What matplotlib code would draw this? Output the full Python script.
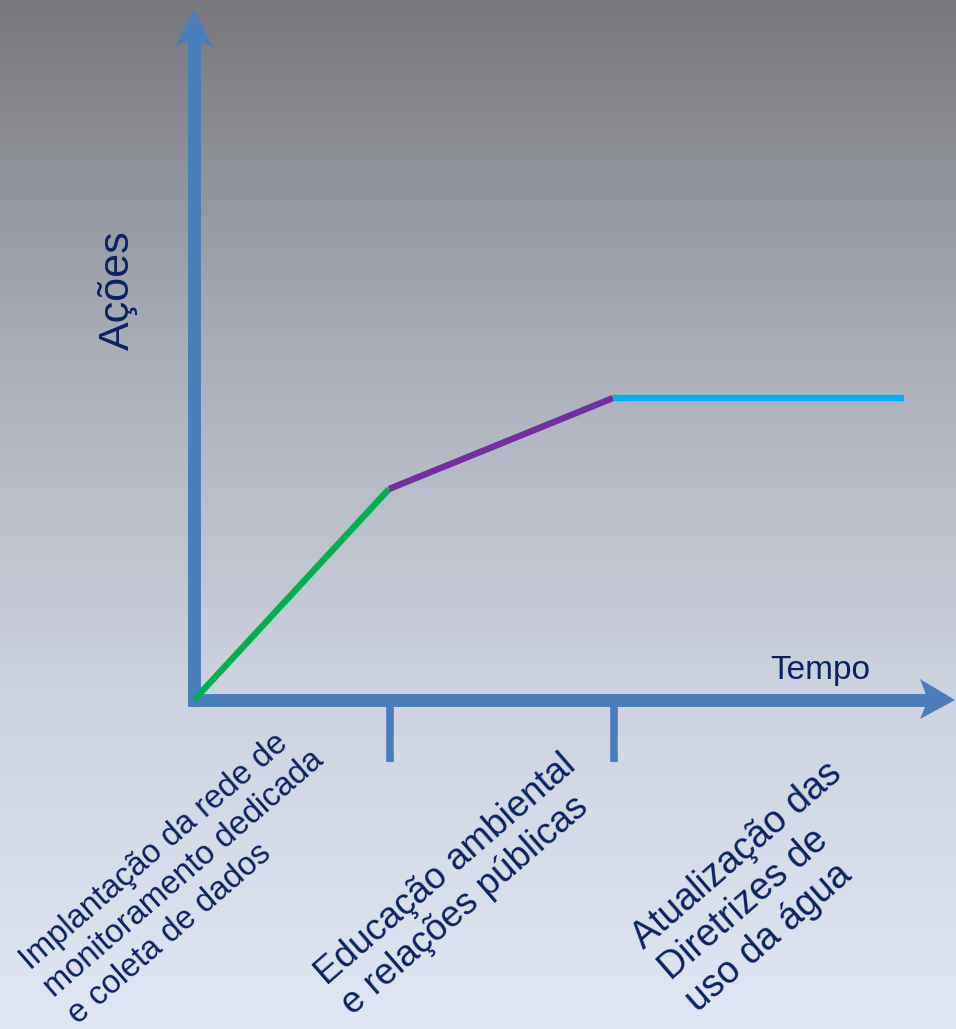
import numpy as np
import matplotlib
matplotlib.use("Agg")
import matplotlib.pyplot as plt
from matplotlib.patches import Polygon
from matplotlib.colors import LinearSegmentedColormap

plt.rcParams['font.family'] = ['Liberation Sans', 'DejaVu Sans']

# ---- data (arbitrary units: time vs. actions) ----
phase_times = [0.0, 1.95, 4.19, 7.10]        # phase boundaries on the time axis
phase_actions = [0.0, 2.11, 3.02, 3.02]      # cumulative actions at those boundaries
phase_colors = ['#00b050', '#7030a0', '#00b0f0']
phase_labels = ['Implantação da rede de\nmonitoramento dedicada\ne coleta de dados',
                'Educação ambiental\ne relações públicas',
                'Atualização das\nDiretrizes de\nuso da água']
tick_times = [1.96, 4.20]
y_title = 'Ações'
x_title = 'Tempo'

W, H = 956, 1029
fig = plt.figure(figsize=(W / 100, H / 100), dpi=100)
ax = fig.add_axes([0, 0, 1, 1])
# 1 unit = 100 px; origin at pixel (194, 700)
x0, y0 = 1.94, 7.00
ax.set_xlim(-x0, W / 100 - x0)
ax.set_ylim(y0 - H / 100, y0)
ax.axis('off')

# gradient background
cmap = LinearSegmentedColormap.from_list('bg', ['#77787c', '#a9adb6', '#ccd2de', '#e0e6f3'])
grad = np.linspace(0, 1, 256).reshape(-1, 1)
ax.imshow(grad, cmap=cmap, aspect='auto',
          extent=(-x0, W / 100 - x0, y0 - H / 100, y0), origin='upper', zorder=0)

axis_col = '#4a7ebb'
navy = '#0b2262'

# vertical axis shaft + notched head
ax.plot([0, 0], [-0.06, 6.62], color=axis_col, lw=9.3, solid_capstyle='butt', zorder=2)
ax.add_patch(Polygon([(0, 6.90), (-0.19, 6.53), (0, 6.62), (0.19, 6.53)],
                     closed=True, color=axis_col, lw=0, zorder=2))
# horizontal axis shaft + notched head
ax.plot([-0.06, 7.36], [0, 0], color=axis_col, lw=9.3, solid_capstyle='butt', zorder=2)
ax.add_patch(Polygon([(7.61, 0), (7.26, 0.21), (7.34, 0), (7.26, -0.19)],
                     closed=True, color=axis_col, lw=0, zorder=2))

# ticks
for t in tick_times:
    ax.plot([t, t], [-0.05, -0.62], color=axis_col, lw=5.5, solid_capstyle='butt', zorder=2)

# phase lines
for i, c in enumerate(phase_colors):
    ax.plot(phase_times[i:i + 2], phase_actions[i:i + 2], color=c, lw=4.6,
            solid_capstyle='butt', zorder=3)

# titles
ax.text(-0.76, 4.10, y_title, rotation=90, ha='center', va='center',
        fontsize=31, color=navy, zorder=4)
ax.text(6.26, 0.30, x_title, ha='center', va='center', fontsize=24, color=navy, zorder=4)

# rotated phase labels (left-aligned lines, rotated block)
label_pos = [(-0.10, -1.74), (2.65, -1.85), (5.70, -1.87)]
label_sizes = [23.5, 26.5, 27]
for (lx, ly), txt, fs in zip(label_pos, phase_labels, label_sizes):
    ax.text(lx, ly, txt, rotation=41, rotation_mode='anchor', ha='center', va='center',
            multialignment='left', fontsize=fs, color=navy, linespacing=1.2, zorder=4)

fig.savefig('out.png', dpi=100)
